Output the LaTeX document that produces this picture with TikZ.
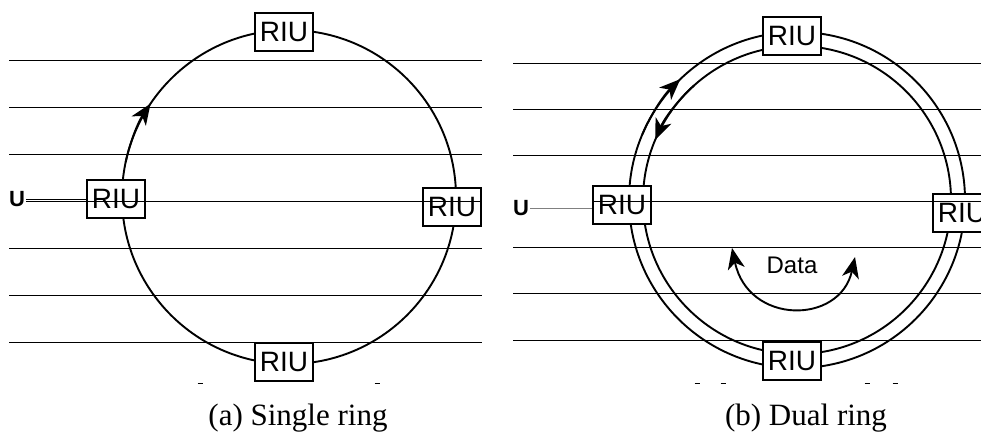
\documentclass[tikz,border=0pt]{standalone}
\usepackage{fontspec}
\setmainfont{Liberation Serif}
\setsansfont{Liberation Sans}
\usetikzlibrary{arrows.meta}

\begin{document}
\begin{tikzpicture}[x=1pt, y=-1pt,
	riu/.style={draw, line width=1.5pt, fill=white, minimum width=58pt, minimum height=38pt, inner sep=0pt, font=\sffamily\fontsize{28}{28}\selectfont},
	ring/.style={line width=1.9pt},
	bus/.style={line width=1pt},
	flow/.style={line width=1.9pt, -{Stealth[length=21pt,width=17pt,inset=6pt]}},
	user/.style={inner sep=1pt, font=\sffamily\bfseries\fontsize{22}{22}\selectfont},
	caption/.style={font=\fontsize{31}{31}\selectfont}]
\useasboundingbox (0,0) rectangle (981,437);
\clip (0,0) rectangle (981,437);

% (a) single ring
\coordinate (ca) at (289,197);
\draw[ring] (ca) circle[radius=167];
\draw[flow] (ca) ++(192:167) arc[start angle=192, end angle=214, radius=167];
\node[riu] (ta) at (284,32) {RIU};
\node[riu] (la) at (116,199) {RIU};
\node[riu] (ra) at (452,207) {RIU};
\node[riu] (ba) at (284,362) {RIU};
\foreach \y in {60,107,154,201,248,295,342}
	\draw[bus] (9,\y) -- (482,\y);
\node[user, fill=white] (ua) at (17,199) {U};
\draw[line width=0.7pt] (ua.east) -- (la.west);

% (b) dual ring
\coordinate (cb) at (797,200);
\draw[ring] (cb) circle[radius=168];
\draw[ring] (cb) circle[radius=154];
\draw[flow] (cb) ++(203:168) arc[start angle=203, end angle=226, radius=168];
\draw[flow] (cb) ++(228:154) arc[start angle=228, end angle=203, radius=154];
\node[riu] (tb) at (792,36) {RIU};
\node[riu] (lb) at (622,205) {RIU};
\node[riu] (rb) at (962,213) {RIU};
\node[riu] (bb) at (792,361) {RIU};
\foreach \y in {63,109,155,247,293,340}
	\draw[bus] (513,\y) -- (981,\y);
\draw[bus] (lb.west |- 0,201) -- (981,201);
\node[user] (ub) at (521,208) {U};
\draw[line width=0.6pt, gray] (ub.east) -- (lb.west |- ub.east);
\node[font=\sffamily\fontsize{24}{24}\selectfont] (data) at (792,265) {Data};
\coordinate (dl) at (732,248);
\coordinate (dr) at (855,257);
\draw[flow, {Stealth[length=21pt,width=17pt,inset=6pt]}-{Stealth[length=21pt,width=17pt,inset=6pt]}]
	(dl) .. controls (748,325) and (840,325) .. (dr);

% short marks under the rings
\foreach \x in {200,377,697,723,867,895}
	\draw[line width=1pt] (\x-2.5,383) -- (\x+2.5,383);

\node[caption] (capa) at (298,418) {(a) Single ring};
\node[caption] (capb) at (806,418) {(b) Dual ring};
\end{tikzpicture}
\end{document}
